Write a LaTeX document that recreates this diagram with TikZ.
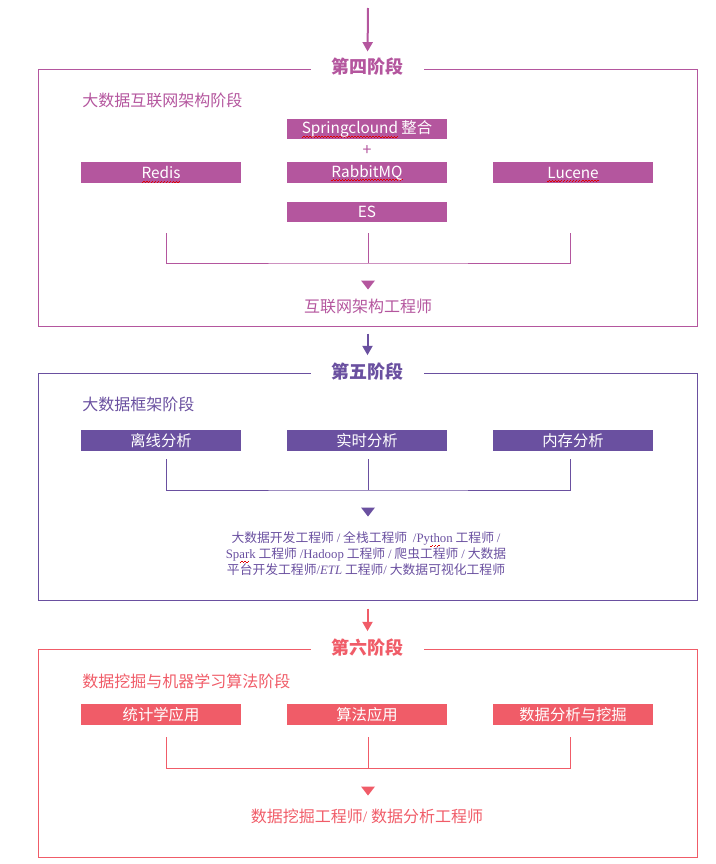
\documentclass[tikz,border=0pt]{standalone}
\usepackage{fontspec}
\setmainfont{Noto Sans CJK SC}
\newfontfamily\latinserif{Liberation Serif}
\usepackage{xcolor}
\usetikzlibrary{arrows.meta}

\definecolor{stagefour}{HTML}{B4569E}
\definecolor{stagefive}{HTML}{6A50A0}
\definecolor{stagesix}{HTML}{F05C68}
\definecolor{spellred}{HTML}{E00000}

\tikzset{
  stageframe/.style={draw=#1, line width=0.75pt, inner sep=0pt},
  stagetitle/.style={fill=white, text=#1, inner sep=0pt, minimum width=85pt,
    font=\bfseries\fontsize{13.5}{16}\selectfont},
  subtitle/.style={text=#1, anchor=west, inner sep=0pt, font=\fontsize{12}{14}\selectfont},
  tagbox/.style={fill=#1, text=white, inner sep=0pt, minimum width=120pt,
    minimum height=15.5pt, font=\fontsize{11.5}{13}\selectfont},
  joiner/.style={draw=#1, line width=0.75pt},
  stagearrow/.style={draw=#1, line width=1.5pt, -{Triangle[width=7.5pt,length=7pt]}},
  jobtext/.style={text=#1, inner sep=0pt, font=\fontsize{12}{14}\selectfont}
}

% red wavy mark under a word
\newcommand\spellmark[1]{\leavevmode\setbox0=\hbox{#1}%
  \rlap{\raisebox{-2.7pt}[0pt][0pt]{\hbox to\wd0{\color{spellred}%
  \xleaders\hbox{\rule{1.1pt}{0.45pt}\rule[0.7pt]{1.1pt}{0.45pt}}\hfill}}}\box0\relax}
\newcommand\lat[1]{{\latinserif #1}}

\begin{document}
\begin{tikzpicture}[x=0.75pt, y=-0.75pt]
\useasboundingbox (0,0) rectangle (715,864);

% stage four
\node[stageframe=stagefour, minimum width=494.25pt, minimum height=192.75pt] (f4) at (367.5,197.5) {};
\node[stagetitle=stagefour] (t4) at ([yshift=1.5pt]f4.north) {第四阶段};
\coordinate (in4) at (368,8);
\draw[stagearrow=stagefour, shorten >=4.5pt] (in4) -- (t4.north);
\node[subtitle=stagefour] (s4) at (82,100) {大数据互联网架构阶段};
\node[tagbox=stagefour] (spring) at (367,129) {\spellmark{Springclound} 整合};
\node[text=stagefour, inner sep=0pt, font=\fontsize{12}{14}\selectfont] (plus) at (367,151) {+};
\node[tagbox=stagefour] (redis) at (161,172.5) {\spellmark{Redis}};
\node[tagbox=stagefour] (rabbit) at (367,172.5) {\spellmark{Rabbit}\spellmark{MQ}};
\node[tagbox=stagefour] (lucene) at (573,172.5) {\spellmark{Lucene}};
\node[tagbox=stagefour] (es) at (367,212) {ES};
\coordinate (j4a) at (166,233);
\coordinate (j4b) at (368,233);
\coordinate (j4c) at (570,233);
\coordinate (j4m) at (368,263);
\draw[joiner=stagefour] (j4a) |- (j4m) -| (j4c);
\draw[joiner=stagefour] (j4b) -- (j4m);
\coordinate (m4) at (368,285);
\fill[stagefour] (m4) ++(-7,-4.5) -- ++(14,0) -- ++(-7,9) -- cycle;
\node[jobtext=stagefour] (job4) at (368,306) {互联网架构工程师};

% stage five
\node[stageframe=stagefive, minimum width=494.25pt, minimum height=170.25pt] (f5) at (367.5,486.5) {};
\node[stagetitle=stagefive] (t5) at ([yshift=1pt]f5.north) {第五阶段};
\draw[stagearrow=stagefive, shorten <=5.25pt, shorten >=5.25pt] (f4.south) -- (t5.north);
\node[subtitle=stagefive] (s5) at (82,404) {大数据框架阶段};
\node[tagbox=stagefive] (offline) at (161,440.5) {离线分析};
\node[tagbox=stagefive] (realtime) at (367,440.5) {实时分析};
\node[tagbox=stagefive] (memory) at (573,440.5) {内存分析};
\coordinate (j5a) at (166,459);
\coordinate (j5b) at (368,459);
\coordinate (j5c) at (570,459);
\coordinate (j5m) at (368,490);
\draw[joiner=stagefive] (j5a) |- (j5m) -| (j5c);
\draw[joiner=stagefive] (j5b) -- (j5m);
\coordinate (m5) at (368,512);
\fill[stagefive] (m5) ++(-7,-4.5) -- ++(14,0) -- ++(-7,9) -- cycle;
\node[jobtext=stagefive, align=center, font=\fontsize{9.6}{12}\selectfont] (job5) at (366,554)
  {大数据开发工程师 \lat{/} 全栈工程师 \ \lat{/Py\spellmark{th}on} 工程师 \lat{/}\\
   \lat{Sp\spellmark{ar}k} 工程师 \lat{/Hadoop} 工程师 \lat{/} 爬虫工程师 \lat{/} 大数据\\
   平台开发工程师\lat{/\itshape ETL} 工程师\lat{/} 大数据可视化工程师};

% stage six
\node[stageframe=stagesix, minimum width=494.25pt, minimum height=156pt] (f6) at (367.5,753) {};
\node[stagetitle=stagesix] (t6) at ([yshift=1pt]f6.north) {第六阶段};
\draw[stagearrow=stagesix, shorten <=6pt, shorten >=5.25pt] (f5.south) -- (t6.north);
\node[subtitle=stagesix] (s6) at (82,681) {数据挖掘与机器学习算法阶段};
\node[tagbox=stagesix] (stats) at (161,714.5) {统计学应用};
\node[tagbox=stagesix] (algo) at (367,714.5) {算法应用};
\node[tagbox=stagesix] (mining) at (573,714.5) {数据分析与挖掘};
\coordinate (j6a) at (166,737);
\coordinate (j6b) at (368,737);
\coordinate (j6c) at (570,737);
\coordinate (j6m) at (368,768);
\draw[joiner=stagesix] (j6a) |- (j6m) -| (j6c);
\draw[joiner=stagesix] (j6b) -- (j6m);
\coordinate (m6) at (368,791);
\fill[stagesix] (m6) ++(-7,-4.5) -- ++(14,0) -- ++(-7,9) -- cycle;
\node[jobtext=stagesix] (job6) at (367,816) {数据挖掘工程师\lat{/} 数据分析工程师};
\end{tikzpicture}
\end{document}
